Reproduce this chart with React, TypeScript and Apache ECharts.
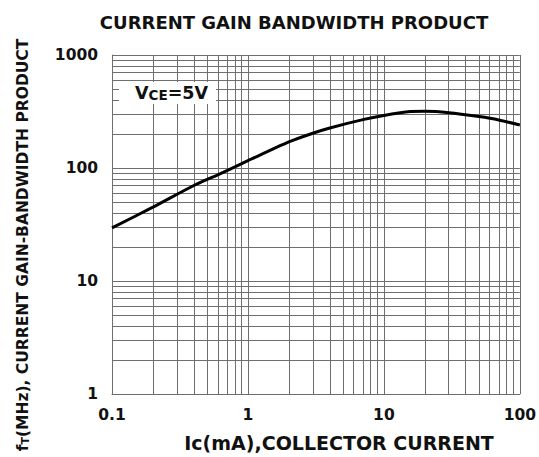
import React, { useEffect, useRef } from "react";
import * as echarts from "echarts";

// Collector current Ic (mA) and transition frequency fT (MHz)
const icValues = [0.1, 0.2, 0.4, 0.6, 1, 2, 3, 4, 7, 10, 15, 20, 30, 50, 70, 100];
const ftValues = [29.5, 45, 70, 87, 116, 170, 203, 226, 268, 292, 315, 318, 309, 285, 266, 240];

// Tick labels
const xTickLabels = ["0.1", "1", "10", "100"];
const yTickLabels = ["1", "10", "100", "1000"];

// Log grid lines (decades and 2..9 subdivisions)
const xGridLines = [
  0.1, 0.2, 0.3, 0.4, 0.5, 0.6, 0.7, 0.8, 0.9,
  1, 2, 3, 4, 5, 6, 7, 8, 9,
  10, 20, 30, 40, 50, 60, 70, 80, 90, 100,
];
const yGridLines = [
  1, 2, 3, 4, 5, 6, 7, 8, 9,
  10, 20, 30, 40, 50, 60, 70, 80, 90,
  100, 200, 300, 400, 500, 600, 700, 800, 900, 1000,
];

const FONT = "DejaVu Sans";
const GRID_COLOR = "#6e6e6e";

export default function App() {
  const ref = useRef<HTMLDivElement>(null);

  useEffect(() => {
    if (!ref.current) return;
    const chart = echarts.init(ref.current, null, { renderer: "svg" });

    const data = icValues.map((x, i) => [x, ftValues[i]]);
    const gridMarks = [
      ...xGridLines.map((v) => ({ xAxis: v })),
      ...yGridLines.map((v) => ({ yAxis: v })),
    ];

    chart.setOption({
      animation: false,
      backgroundColor: "#ffffff",
      grid: { left: 112, top: 55, width: 408, height: 339, containLabel: false },
      xAxis: {
        type: "log",
        logBase: 10,
        min: 0.1,
        max: 100,
        axisLine: { show: true, lineStyle: { color: GRID_COLOR, width: 1 } },
        axisTick: { show: false },
        splitLine: { show: false },
        minorTick: { show: false },
        axisLabel: {
          show: true,
          margin: 13,
          color: "#111",
          fontFamily: FONT,
          fontWeight: "bold",
          fontSize: 15.5,
          showMinLabel: true,
          showMaxLabel: true,
          formatter: (v: number) => xTickLabels[Math.round(Math.log10(v)) + 1] ?? "",
        },
      },
      yAxis: {
        type: "log",
        logBase: 10,
        min: 1,
        max: 1000,
        axisLine: { show: true, lineStyle: { color: GRID_COLOR, width: 1 } },
        axisTick: { show: false },
        splitLine: { show: false },
        minorTick: { show: false },
        axisLabel: {
          show: true,
          margin: 14,
          color: "#111",
          fontFamily: FONT,
          fontWeight: "bold",
          fontSize: 15.5,
          showMinLabel: true,
          showMaxLabel: true,
          formatter: (v: number) => yTickLabels[Math.round(Math.log10(v))] ?? "",
        },
      },
      series: [
        {
          type: "line",
          data,
          smooth: 0.25,
          symbol: "none",
          z: 3,
          lineStyle: { color: "#000", width: 3 },
          silent: true,
          markLine: {
            z: 1,
            silent: true,
            symbol: ["none", "none"],
            label: { show: false },
            emphasis: { disabled: true },
            animation: false,
            lineStyle: { color: GRID_COLOR, width: 1, type: "solid" },
            data: gridMarks,
          },
        },
      ],
      graphic: [
        {
          type: "text",
          z: 20,
          x: 294,
          y: 22,
          style: {
            text: "CURRENT GAIN BANDWIDTH PRODUCT",
            fontFamily: FONT,
            fontWeight: "bold",
            fontSize: 18,
            fill: "#111",
            align: "center",
            verticalAlign: "middle",
          },
        },
        {
          type: "text",
          z: 20,
          x: 339,
          y: 443,
          style: {
            text: "Ic(mA),COLLECTOR CURRENT",
            fontFamily: FONT,
            fontWeight: "bold",
            fontSize: 19,
            fill: "#111",
            align: "center",
            verticalAlign: "middle",
          },
        },
        {
          type: "text",
          z: 20,
          x: 23,
          y: 245,
          rotation: Math.PI / 2,
          style: {
            text: "{a|f}{s|T}{a|(MHz), CURRENT GAIN-BANDWIDTH PRODUCT}",
            align: "center",
            verticalAlign: "middle",
            rich: {
              a: {
                fontFamily: FONT,
                fontWeight: "bold",
                fontSize: 15.5,
                fill: "#111",
                verticalAlign: "bottom",
              },
              s: {
                fontFamily: FONT,
                fontWeight: "bold",
                fontSize: 11,
                fill: "#111",
                verticalAlign: "bottom",
              },
            },
          },
        },
        {
          type: "rect",
          z: 15,
          shape: { x: 119, y: 82, width: 97, height: 22 },
          style: { fill: "#ffffff" },
        },
        {
          type: "text",
          z: 20,
          x: 135,
          y: 93,
          style: {
            text: "{a|V}{b|CE}{a|=5V}",
            align: "left",
            verticalAlign: "middle",
            rich: {
              a: {
                fontFamily: FONT,
                fontWeight: "bold",
                fontSize: 17.5,
                fill: "#111",
                verticalAlign: "bottom",
              },
              b: {
                fontFamily: FONT,
                fontWeight: "bold",
                fontSize: 13.5,
                fill: "#111",
                verticalAlign: "bottom",
              },
            },
          },
        },
      ],
    });

    return () => chart.dispose();
  }, []);

  return (
    <div
      ref={ref}
      style={{ position: "absolute", left: 0, top: 0, width: 539, height: 457 }}
    />
  );
}
